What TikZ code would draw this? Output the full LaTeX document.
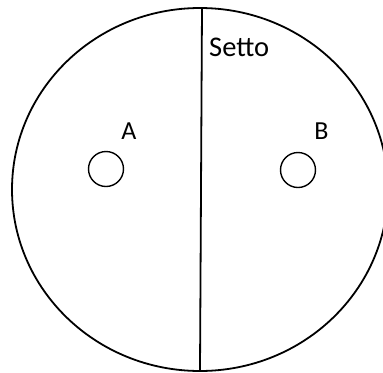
\documentclass[tikz,border=0pt]{standalone}
\usepackage{fontspec}
\setmainfont{Carlito}
\begin{document}
\begin{tikzpicture}[x=1bp,y=-1bp,
  outline/.style={line width=1.8bp,draw=black},
  hole/.style={line width=1.4bp,draw=black},
  lbl/.style={inner sep=0pt,font=\fontsize{26bp}{28bp}\selectfont}]
\useasboundingbox (0,0) rectangle (383,373);
\begin{scope}
\clip (0,0) rectangle (383,373);
\draw[outline] (200,189.5) ellipse [x radius=188, y radius=181.5];
\end{scope}
\coordinate (top) at (202,8);
\coordinate (bot) at (200,371);
\draw[outline] (top) -- (bot);
\node[hole,circle,minimum size=35bp,inner sep=0pt] (ha) at (106,169) {};
\node[hole,circle,minimum size=35bp,inner sep=0pt] (hb) at (298,170) {};
\node[lbl] (la) at (129,131) {A};
\node[lbl] (lb) at (321.5,131) {B};
\node[inner sep=0pt,anchor=base west,font=\fontsize{28.5bp}{30bp}\selectfont] (setto) at (209,56) {Setto};
\end{tikzpicture}
\end{document}
